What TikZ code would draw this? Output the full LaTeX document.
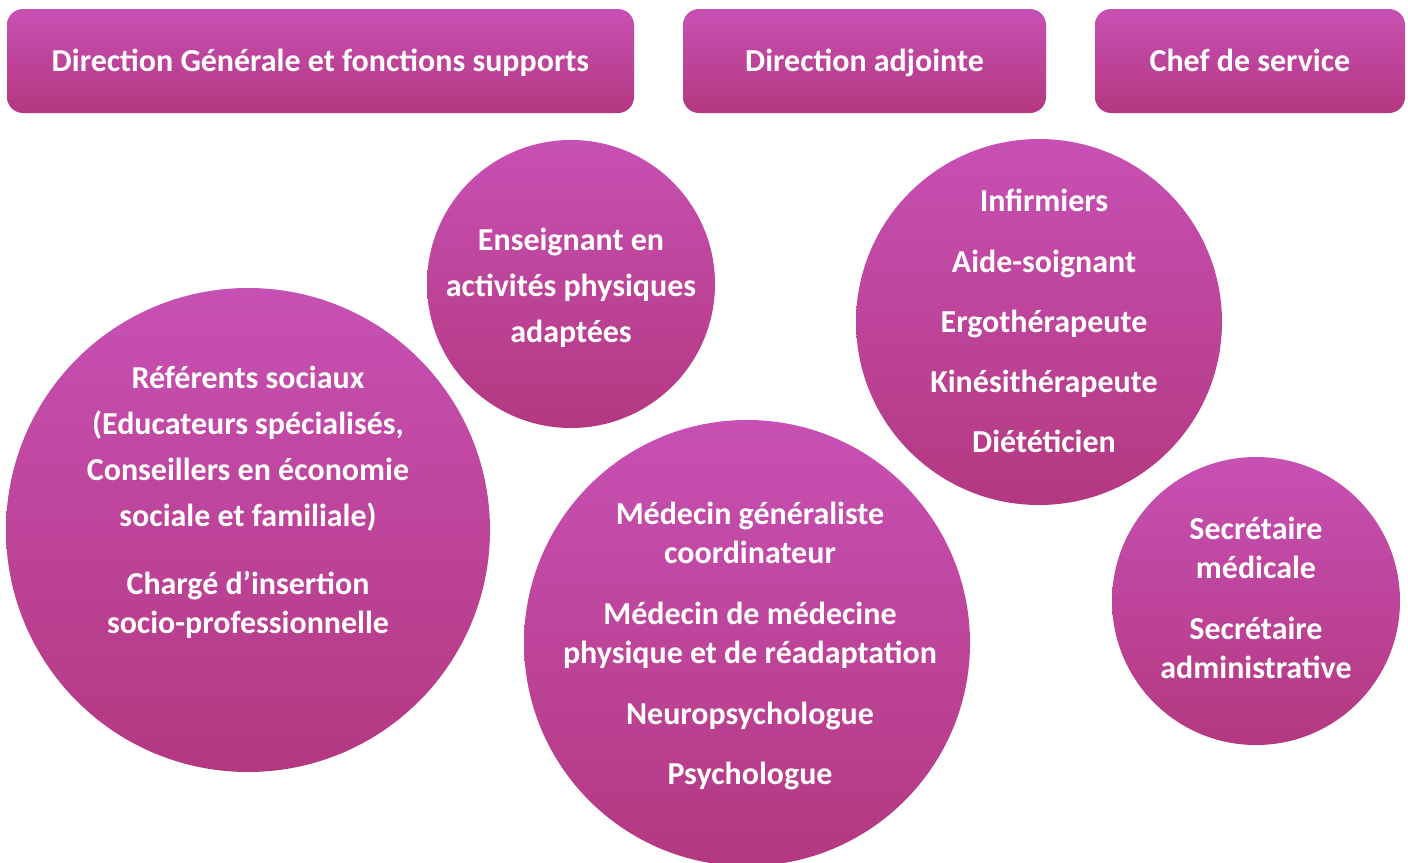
\documentclass[tikz,border=0pt]{standalone}
\usepackage{fontspec}
\setmainfont{Carlito}
\usetikzlibrary{positioning}
\definecolor{mauvetop}{RGB}{199,80,180}
\definecolor{mauvebot}{RGB}{180,56,128}
\begin{document}
\begin{tikzpicture}[
	box/.style={rounded corners=0.32cm, top color=mauvetop, bottom color=mauvebot,
		minimum height=2.08cm, text height=11.7pt, text depth=0pt, text=white,
		font=\bfseries\fontsize{18.2}{22.2}\selectfont},
	bulle/.style={circle, top color=mauvetop, bottom color=mauvebot, inner sep=0pt},
	label/.style={text=white, align=center, font=\bfseries\fontsize{18.2}{22.2}\selectfont}]
	\useasboundingbox (0,0) rectangle (28.16,-17.26);
	% bandeau du haut
	\node[box, minimum width=12.54cm] (dg) at (6.41,-1.22) {Direction Générale et fonctions supports};
	\node[box, minimum width=7.26cm] (da) at (17.29,-1.22) {Direction adjointe};
	\node[box, minimum width=6.20cm] (cs) at (25.00,-1.22) {Chef de service};
	% bulles
	\node[bulle, minimum size=9.68cm] (social) at (4.96,-10.60) {};
	\node[bulle, minimum size=5.76cm] (apa) at (11.42,-5.68) {};
	\node[bulle, minimum size=8.92cm] (medical) at (14.94,-12.86) {};
	\node[bulle, minimum size=7.32cm] (soins) at (20.78,-6.44) {};
	\node[bulle, minimum size=5.76cm] (secret) at (25.12,-12.02) {};
	% textes
	\node[label] (tsocial) at (4.96,-10.04) {Référents sociaux\\[4pt]
		(Educateurs spécialisés,\\[4pt] Conseillers en économie\\[4pt]
		sociale et familiale)\\[16.5pt] Chargé d’insertion\\ socio-professionnelle};
	\node[label] (tapa) at (11.42,-5.76) {Enseignant en\\[4pt] activités physiques\\[4pt] adaptées};
	\node[label] (tmedical) at (15.00,-12.92) {Médecin généraliste\\ coordinateur\\[12.5pt]
		Médecin de médecine\\ physique et de réadaptation\\[12.5pt]
		Neuropsychologue\\[12.5pt] Psychologue};
	\node[label] (tsoins) at (20.88,-6.42) {Infirmiers\\[12pt] Aide-soignant\\[12pt]
		Ergothérapeute\\[12pt] Kinésithérapeute\\[12pt] Diététicien};
	\node[label] (tsecret) at (25.12,-11.95) {Secrétaire\\ médicale\\[12.5pt]
		Secrétaire\\ administrative};
\end{tikzpicture}
\end{document}
